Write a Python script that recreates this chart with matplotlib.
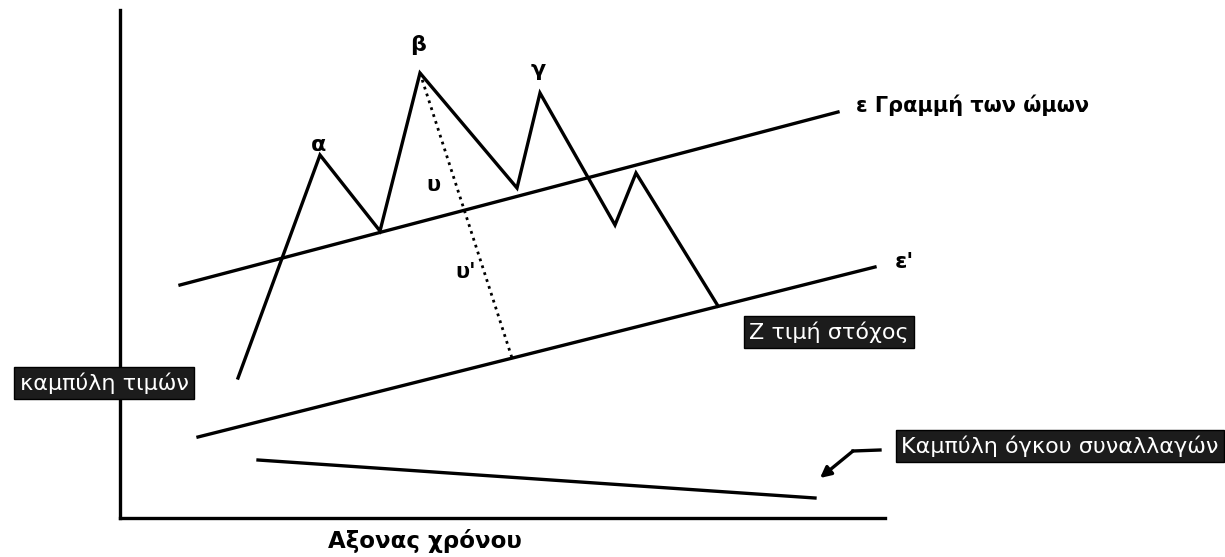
import matplotlib
matplotlib.use("Agg")
import matplotlib.pyplot as plt

# price curve (time, price)
price_t = [118, 200, 260, 300, 397, 420, 495, 516, 598]
price_v = [140, 363, 287, 445, 330, 425, 293, 345, 212]
peak_names = ["α", "β", "γ"]
peak_idx = [1, 3, 5]

# neckline ε and parallel line ε'
neck_t = [60, 718]
neck_v = [233, 406]
target_t = [78, 755]
target_v = [81, 251]

# distance β -> ε'
dist_t = [300, 392]
dist_v = [445, 160]

# volume curve
vol_t = [138, 695]
vol_v = [58, 20]

plt.rcParams['font.family'] = ['DejaVu Sans']

W, H = 1225, 557
fig = plt.figure(figsize=(W / 100, H / 100), dpi=100)
ax = fig.add_axes([120 / W, 39 / H, 765 / W, 508 / H])
ax.set_xlim(0, 765)
ax.set_ylim(0, 508)
for s in ["top", "right"]:
  ax.spines[s].set_visible(False)
for s in ["left", "bottom"]:
  ax.spines[s].set_linewidth(2.4)
ax.set_xticks([])
ax.set_yticks([])

lw = 2.4
ax.plot(price_t, price_v, color="black", lw=lw, solid_joinstyle="miter", clip_on=False)
ax.plot(neck_t, neck_v, color="black", lw=lw, clip_on=False)
ax.plot(target_t, target_v, color="black", lw=lw, clip_on=False)
ax.plot(dist_t, dist_v, color="black", lw=2, ls=(0, (1, 1.6)), clip_on=False)
ax.plot(vol_t, vol_v, color="black", lw=lw, clip_on=False)

# peak letters
lift = [10, 28, 23]
for name, i, d in zip(peak_names, peak_idx, lift):
  ax.text(price_t[i] - 2, price_v[i] + d, name, fontsize=16, fontweight="bold",
          ha="center", va="center")

ax.text(313, 333, "υ", fontsize=15, fontweight="bold", ha="center", va="center")
ax.text(346, 246, "υ'", fontsize=15, fontweight="bold", ha="center", va="center")

ax.text(736, 413, "ε Γραμμή των ώμων", fontsize=15, fontweight="bold",
        ha="left", va="center", clip_on=False)
ax.text(775, 256, "ε'", fontsize=16, fontweight="bold",
        ha="left", va="center", clip_on=False)

box = dict(boxstyle="square,pad=0.25", facecolor="#1c1c1c", edgecolor="black")
ax.text(709, 186, "Ζ τιμή στόχος", fontsize=16, color="white",
        ha="center", va="center", bbox=box, clip_on=False)
ax.text(-16, 135, "καμπύλη τιμών", fontsize=16, color="white",
        ha="center", va="center", bbox=box, clip_on=False)
ax.text(940, 72, "Καμπύλη όγκου συναλλαγών", fontsize=16, color="white",
        ha="center", va="center", bbox=box, clip_on=False)

# arrow towards the volume curve
ax.plot([760, 733], [68, 67], color="black", lw=lw, clip_on=False)
ax.annotate("", xy=(700, 40), xytext=(733, 67),
            arrowprops=dict(arrowstyle="-|>", color="black", lw=lw,
                            mutation_scale=16, shrinkA=0, shrinkB=0),
            annotation_clip=False)

ax.text(305, -23, "Αξονας χρόνου", fontsize=16.5, fontweight="bold",
        ha="center", va="center", clip_on=False)

fig.savefig("out.png", dpi=100, facecolor="white")
